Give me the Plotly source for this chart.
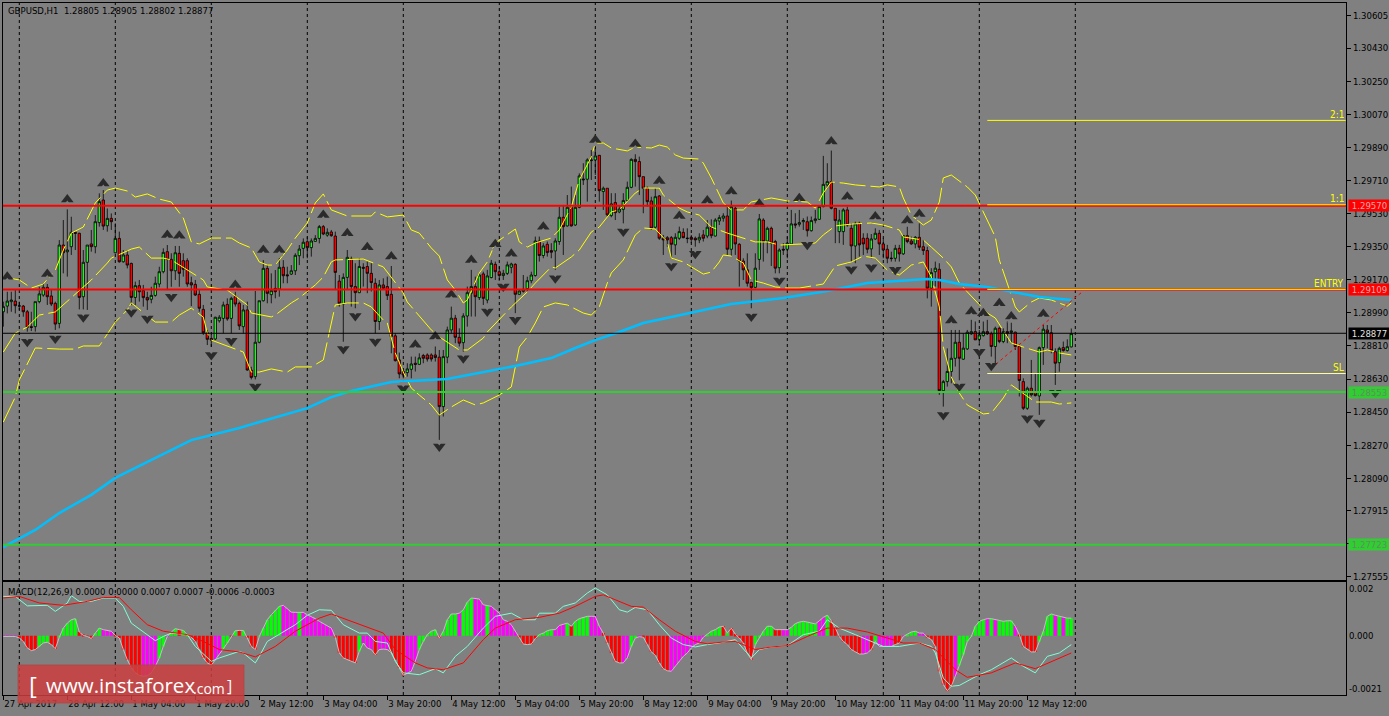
import plotly.graph_objects as go

# ---------- candles (bar index = position in list) ----------
open_prices = [
1.28996,1.29027,1.29051,1.29054,1.29027,1.29027,1.28996,1.28915,1.28915,1.29051,
1.29087,1.29129,1.29082,1.29042,1.28933,1.29359,1.29322,1.29350,1.29428,1.29423,
1.29078,1.29265,1.29365,1.29350,1.29481,1.29604,1.29464,1.29504,1.29317,1.29395,
1.29268,1.29305,1.29259,1.29074,1.29138,1.29111,1.29074,1.29064,1.29085,1.29147,
1.29214,1.29323,1.29281,1.29219,1.29314,1.29274,1.29274,1.29154,1.29145,1.29091,
1.29009,1.28882,1.28851,1.28848,1.28947,1.28960,1.29036,1.28960,1.29078,1.29042,
1.28915,1.29006,1.28679,1.28643,1.28830,1.29056,1.29232,1.29089,1.29123,1.29120,
1.29238,1.29197,1.29201,1.29219,1.29301,1.29341,1.29377,1.29345,1.29379,1.29395,
1.29459,1.29413,1.29430,1.29408,1.29163,1.29038,1.29183,1.29282,1.29133,1.29100,
1.29238,1.29242,1.29205,1.29151,1.28943,1.29142,1.29133,1.29091,1.28865,1.28734,
1.28671,1.28665,1.28683,1.28716,1.28710,1.28758,1.28761,1.28761,1.28761,1.28749,
1.28480,1.28749,1.28897,1.28961,1.28857,1.28828,1.28973,1.29097,1.29133,1.29073,
1.29202,1.29060,1.29182,1.29254,1.29214,1.29193,1.29205,1.29238,1.29254,1.29091,
1.29107,1.29122,1.29165,1.29193,1.29381,1.29302,1.29363,1.29329,1.29327,1.29378,
1.29510,1.29463,1.29564,1.29468,1.29564,1.29713,1.29717,1.29818,1.29822,1.29847,
1.29650,1.29668,1.29519,1.29590,1.29539,1.29553,1.29601,1.29673,1.29825,1.29813,
1.29731,1.29668,1.29599,1.29456,1.29626,1.29396,1.29399,1.29399,1.29360,1.29396,
1.29428,1.29394,1.29401,1.29396,1.29387,1.29414,1.29408,1.29454,1.29408,1.29490,
1.29505,1.29517,1.29336,1.29559,1.29363,1.29272,1.29224,1.29155,1.29129,1.29281,
1.29495,1.29381,1.29450,1.29378,1.29236,1.29336,1.29336,1.29365,1.29474,1.29472,
1.29486,1.29486,1.29437,1.29492,1.29499,1.29568,1.29686,1.29704,1.29559,1.29432,
1.29432,1.29550,1.29450,1.29354,1.29477,1.29396,1.29396,1.29338,1.29392,1.29423,
1.29365,1.29336,1.29285,1.29287,1.29341,1.29311,1.29410,1.29381,1.29365,1.29401,
1.29350,1.29329,1.29124,1.29214,1.29227,1.28567,1.28616,1.28671,1.28743,1.28830,
1.28738,1.28794,1.28876,1.28888,1.28846,1.28866,1.28888,1.28876,1.28807,1.28906,
1.28834,1.28888,1.28883,1.28885,1.28807,1.28616,1.28471,1.28580,1.28562,1.28538,
1.28801,1.28897,1.28882,1.28779,1.28719,1.28801,1.28785,1.28805]
high_prices = [
1.29051,1.29105,1.29105,1.29114,1.29051,1.29033,1.29006,1.28996,1.29051,1.29132,
1.29151,1.29147,1.29114,1.29051,1.29386,1.29495,1.29553,1.29513,1.29432,1.29426,
1.29332,1.29359,1.29441,1.29522,1.29640,1.29658,1.29558,1.29531,1.29477,1.29432,
1.29332,1.29332,1.29263,1.29160,1.29169,1.29142,1.29105,1.29132,1.29187,1.29241,
1.29341,1.29359,1.29314,1.29354,1.29354,1.29314,1.29287,1.29187,1.29169,1.29114,
1.29033,1.28897,1.28870,1.28969,1.28978,1.29051,1.29069,1.29078,1.29105,1.29051,
1.29033,1.29051,1.28697,1.29109,1.29056,1.29277,1.29250,1.29205,1.29223,1.29287,
1.29277,1.29241,1.29250,1.29314,1.29359,1.29395,1.29404,1.29395,1.29413,1.29468,
1.29468,1.29450,1.29441,1.29432,1.29196,1.29205,1.29332,1.29296,1.29260,1.29287,
1.29260,1.29269,1.29260,1.29178,1.29169,1.29178,1.29187,1.29245,1.28879,1.28774,
1.28680,1.28716,1.28752,1.28752,1.28770,1.28767,1.28770,1.28770,1.28807,1.28788,
1.28788,1.28915,1.29024,1.28979,1.28906,1.28988,1.29133,1.29224,1.29187,1.29205,
1.29214,1.29224,1.29278,1.29269,1.29242,1.29224,1.29269,1.29263,1.29260,1.29115,
1.29196,1.29187,1.29214,1.29405,1.29405,1.29369,1.29378,1.29369,1.29396,1.29568,
1.29577,1.29631,1.29677,1.29631,1.29749,1.29804,1.29831,1.29876,1.29894,1.29849,
1.29677,1.29668,1.29641,1.29641,1.29577,1.29641,1.29704,1.29831,1.29853,1.29840,
1.29731,1.29677,1.29622,1.29668,1.29631,1.29414,1.29408,1.29408,1.29423,1.29459,
1.29450,1.29450,1.29414,1.29405,1.29423,1.29441,1.29495,1.29499,1.29505,1.29523,
1.29532,1.29568,1.29601,1.29568,1.29369,1.29287,1.29314,1.29160,1.29314,1.29528,
1.29505,1.29459,1.29459,1.29387,1.29341,1.29369,1.29405,1.29550,1.29532,1.29550,
1.29505,1.29514,1.29514,1.29550,1.29572,1.29844,1.29804,1.29873,1.29559,1.29550,
1.29559,1.29568,1.29477,1.29486,1.29486,1.29423,1.29423,1.29419,1.29450,1.29441,
1.29396,1.29360,1.29323,1.29360,1.29360,1.29414,1.29468,1.29405,1.29408,1.29477,
1.29387,1.29350,1.29233,1.29269,1.29260,1.28625,1.28797,1.28897,1.28897,1.28897,
1.28879,1.28897,1.28952,1.28943,1.28897,1.28943,1.28952,1.28888,1.28915,1.28915,
1.28906,1.28943,1.28943,1.28888,1.28816,1.28634,1.28589,1.28734,1.28661,1.28807,
1.28924,1.28924,1.28924,1.28797,1.28806,1.28834,1.28846,1.28905]
low_prices = [
1.28915,1.28987,1.28996,1.28987,1.29006,1.28969,1.28888,1.28891,1.28888,1.29042,
1.29078,1.29033,1.29027,1.28897,1.28906,1.29205,1.29187,1.29305,1.29332,1.29009,
1.29009,1.29006,1.29323,1.29314,1.29459,1.29441,1.29432,1.29441,1.29314,1.29263,
1.29263,1.29232,1.29033,1.29033,1.29051,1.29024,1.29006,1.29042,1.29078,1.29129,
1.29205,1.29114,1.29132,1.29169,1.29132,1.29187,1.29132,1.29027,1.29082,1.28996,
1.28870,1.28815,1.28806,1.28842,1.28937,1.28879,1.28947,1.28879,1.29024,1.28897,
1.28879,1.28675,1.28628,1.28628,1.28824,1.29051,1.29042,1.29042,1.29069,1.29078,
1.29151,1.29151,1.29196,1.29196,1.29250,1.29287,1.29287,1.29296,1.29377,1.29368,
1.29413,1.29404,1.29404,1.29114,1.29024,1.28833,1.29114,1.29024,1.29015,1.29097,
1.29133,1.29097,1.29106,1.28879,1.28897,1.29115,1.29060,1.28770,1.28725,1.28634,
1.28634,1.28643,1.28634,1.28671,1.28707,1.28716,1.28725,1.28725,1.28725,1.28299,
1.28426,1.28716,1.28879,1.28825,1.28807,1.28779,1.28915,1.28970,1.28970,1.29060,
1.29033,1.29042,1.29178,1.29169,1.29169,1.29169,1.29196,1.29205,1.28988,1.29088,
1.29100,1.29106,1.29151,1.29187,1.29269,1.29287,1.29296,1.29287,1.29224,1.29360,
1.29305,1.29459,1.29459,1.29463,1.29559,1.29686,1.29595,1.29713,1.29740,1.29595,
1.29550,1.29514,1.29510,1.29495,1.29532,1.29477,1.29595,1.29668,1.29677,1.29631,
1.29532,1.29568,1.29441,1.29450,1.29387,1.29305,1.29350,1.29287,1.29305,1.29387,
1.29396,1.29369,1.29369,1.29350,1.29369,1.29378,1.29396,1.29396,1.29405,1.29468,
1.29486,1.29305,1.29300,1.29305,1.29133,1.29169,1.29133,1.29015,1.29124,1.29224,
1.29269,1.29314,1.29245,1.29205,1.29205,1.29305,1.29287,1.29360,1.29450,1.29459,
1.29441,1.29405,1.29432,1.29477,1.29495,1.29564,1.29668,1.29553,1.29369,1.29369,
1.29360,1.29459,1.29269,1.29260,1.29296,1.29305,1.29314,1.29287,1.29387,1.29305,
1.29287,1.29260,1.29269,1.29269,1.29269,1.29305,1.29369,1.29360,1.29341,1.29332,
1.29305,1.29069,1.29024,1.29133,1.28544,1.28480,1.28589,1.28607,1.28698,1.28589,
1.28734,1.28788,1.28870,1.28843,1.28752,1.28861,1.28870,1.28752,1.28716,1.28825,
1.28825,1.28825,1.28825,1.28788,1.28535,1.28462,1.28462,1.28535,1.28535,1.28435,
1.28707,1.28797,1.28770,1.28598,1.28670,1.28779,1.28779,1.28802]
close_prices = [
1.29024,1.29054,1.29060,1.29029,1.29028,1.28996,1.28911,1.28911,1.29051,1.29093,
1.29129,1.29078,1.29038,1.28929,1.29359,1.29317,1.29332,1.29428,1.29423,1.29074,
1.29265,1.29359,1.29350,1.29486,1.29595,1.29462,1.29504,1.29486,1.29395,1.29268,
1.29305,1.29250,1.29074,1.29138,1.29105,1.29073,1.29060,1.29085,1.29151,1.29214,
1.29319,1.29281,1.29219,1.29317,1.29205,1.29227,1.29147,1.29142,1.29087,1.29015,
1.28882,1.28846,1.28842,1.28966,1.28966,1.29033,1.28957,1.29069,1.29038,1.28919,
1.29006,1.28679,1.28639,1.28830,1.29056,1.29232,1.29096,1.29111,1.29105,1.29238,
1.29192,1.29192,1.29219,1.29303,1.29337,1.29374,1.29345,1.29381,1.29395,1.29459,
1.29419,1.29428,1.29410,1.29210,1.29042,1.29183,1.29292,1.29133,1.29100,1.29242,
1.29233,1.29205,1.29155,1.28943,1.29142,1.29124,1.29084,1.28861,1.28730,1.28658,
1.28652,1.28685,1.28712,1.28710,1.28745,1.28743,1.28739,1.28739,1.28747,1.28480,
1.28752,1.28897,1.28961,1.28857,1.28825,1.28973,1.29100,1.29133,1.29078,1.29196,
1.29069,1.29191,1.29260,1.29214,1.29193,1.29205,1.29251,1.29256,1.29091,1.29109,
1.29118,1.29165,1.29196,1.29381,1.29302,1.29354,1.29318,1.29320,1.29381,1.29510,
1.29459,1.29564,1.29463,1.29564,1.29735,1.29717,1.29822,1.29822,1.29844,1.29655,
1.29668,1.29523,1.29583,1.29535,1.29555,1.29601,1.29673,1.29825,1.29813,1.29731,
1.29668,1.29595,1.29450,1.29622,1.29396,1.29387,1.29387,1.29363,1.29401,1.29432,
1.29399,1.29396,1.29390,1.29387,1.29401,1.29396,1.29456,1.29410,1.29495,1.29508,
1.29517,1.29336,1.29568,1.29365,1.29272,1.29224,1.29151,1.29127,1.29233,1.29501,
1.29378,1.29450,1.29369,1.29233,1.29332,1.29332,1.29369,1.29474,1.29468,1.29481,
1.29492,1.29437,1.29492,1.29501,1.29568,1.29689,1.29704,1.29559,1.29492,1.29495,
1.29550,1.29468,1.29354,1.29474,1.29360,1.29365,1.29336,1.29392,1.29423,1.29365,
1.29332,1.29287,1.29287,1.29341,1.29311,1.29410,1.29378,1.29365,1.29401,1.29347,
1.29329,1.29124,1.29209,1.29233,1.28567,1.28616,1.28671,1.28743,1.28830,1.28743,
1.28798,1.28885,1.28888,1.28843,1.28870,1.28888,1.28876,1.28807,1.28906,1.28834,
1.28888,1.28879,1.28892,1.28807,1.28622,1.28471,1.28580,1.28544,1.28540,1.28801,
1.28901,1.28882,1.28785,1.28716,1.28797,1.28785,1.28806,1.28877]

# ---------- overlays ----------
ma_index = [0,8,14,22,28,37,47,59,70,76,82,87,97,111,128,137,143,148,154,160,167,174,182,195,206,216,224,231,234,239,246,254,259,267]
ma_values = [1.27716,1.27809,1.27901,1.28000,1.28092,1.28190,1.28298,1.28364,1.28434,1.28472,1.28532,1.28565,1.28614,1.28630,1.28701,1.28744,1.28799,1.28842,1.28886,1.28935,1.28968,1.29000,1.29038,1.29071,1.29109,1.29152,1.29163,1.29174,1.29169,1.29147,1.29131,1.29098,1.29076,1.29060]

upper_index = [0,4,7,10,13,15,17,20,23,26,28,31,33,36,39,42,45,47,49,52,57,59,62,64,66,68,71,73,76,78,80,82,86,92,93,96,100,102,104,107,109,111,113,115,116,119,121,123,128,129,131,133,137,139,142,144,147,148,150,152,156,158,162,164,166,168,170,174,175,177,180,182,185,187,192,196,201,203,205,207,210,213,219,221,224,225,227,230,232,234,235,237,241,243,245,248,249,251,253,254,257,259,262,266,267]
upper_values = [1.29185,1.29169,1.29125,1.29147,1.29223,1.29332,1.29424,1.29457,1.29588,1.29658,1.29669,1.29653,1.29620,1.29637,1.29609,1.29593,1.29506,1.29376,1.29365,1.29397,1.29397,1.29370,1.29343,1.29267,1.29250,1.29250,1.29332,1.29397,1.29479,1.29588,1.29637,1.29550,1.29517,1.29517,1.29539,1.29512,1.29522,1.29441,1.29424,1.29343,1.29299,1.29169,1.29114,1.29044,1.29060,1.29207,1.29267,1.29370,1.29446,1.29376,1.29348,1.29370,1.29397,1.29441,1.29566,1.29713,1.29838,1.29914,1.29914,1.29887,1.29871,1.29892,1.29887,1.29903,1.29892,1.29849,1.29832,1.29827,1.29805,1.29724,1.29588,1.29550,1.29550,1.29593,1.29615,1.29599,1.29593,1.29560,1.29642,1.29702,1.29696,1.29686,1.29675,1.29686,1.29675,1.29615,1.29522,1.29468,1.29495,1.29593,1.29724,1.29740,1.29675,1.29631,1.29539,1.29403,1.29278,1.29152,1.29022,1.28995,1.29049,1.29071,1.29060,1.29027,1.29044]

middle_index = [0,3,6,9,13,15,17,20,22,26,27,32,34,37,40,42,44,50,51,56,57,61,62,67,68,72,74,78,80,82,83,89,90,95,96,100,101,107,109,114,116,120,121,125,127,131,133,137,138,142,144,147,149,152,154,158,160,164,165,169,171,174,177,181,184,188,191,194,200,203,205,208,212,217,220,224,225,230,232,235,237,239,241,246,248,252,255,259,261,264,267]
middle_values = [1.28777,1.28880,1.28913,1.28978,1.28995,1.29033,1.29076,1.29131,1.29169,1.29261,1.29288,1.29337,1.29348,1.29288,1.29288,1.29278,1.29250,1.29169,1.29131,1.29114,1.29098,1.29033,1.28989,1.28968,1.28978,1.29044,1.29071,1.29142,1.29185,1.29267,1.29278,1.29283,1.29283,1.29240,1.29212,1.29098,1.29049,1.28897,1.28859,1.28788,1.28788,1.28853,1.28886,1.28978,1.29022,1.29104,1.29152,1.29240,1.29234,1.29294,1.29332,1.29430,1.29457,1.29539,1.29550,1.29642,1.29669,1.29669,1.29631,1.29560,1.29539,1.29522,1.29457,1.29424,1.29403,1.29376,1.29376,1.29359,1.29365,1.29370,1.29414,1.29463,1.29473,1.29479,1.29468,1.29441,1.29403,1.29386,1.29348,1.29288,1.29240,1.29152,1.29104,1.28989,1.28962,1.28826,1.28804,1.28777,1.28788,1.28772,1.28761]

lower_index = [0,3,4,7,8,14,18,20,24,25,28,31,32,38,42,44,47,50,51,52,57,60,62,64,67,71,73,77,80,82,83,86,90,92,95,96,98,100,102,104,107,109,112,115,118,120,124,127,128,129,131,133,135,138,141,143,145,147,149,151,152,155,158,160,163,166,167,170,174,175,177,179,180,182,185,187,190,193,196,199,205,207,208,212,215,218,221,224,227,230,232,234,235,237,239,241,245,247,250,252,258,262,264,267]
lower_values = [1.28396,1.28532,1.28625,1.28750,1.28799,1.28793,1.28793,1.28810,1.28810,1.28842,1.28940,1.29006,1.29044,1.28940,1.28940,1.28978,1.29016,1.28967,1.28880,1.28842,1.28799,1.28777,1.28668,1.28668,1.28685,1.28668,1.28696,1.28696,1.28734,1.28935,1.29033,1.29044,1.29044,1.29022,1.28951,1.28935,1.28772,1.28668,1.28581,1.28543,1.28489,1.28434,1.28478,1.28516,1.28489,1.28500,1.28543,1.28587,1.28696,1.28804,1.28859,1.28935,1.29022,1.29044,1.29033,1.29011,1.28989,1.28978,1.29022,1.29152,1.29207,1.29278,1.29414,1.29452,1.29446,1.29376,1.29288,1.29267,1.29212,1.29201,1.29212,1.29267,1.29305,1.29299,1.29261,1.29169,1.29152,1.29131,1.29125,1.29125,1.29147,1.29212,1.29245,1.29267,1.29299,1.29288,1.29223,1.29196,1.29250,1.29267,1.29185,1.29022,1.28804,1.28641,1.28554,1.28489,1.28440,1.28445,1.28527,1.28598,1.28505,1.28505,1.28494,1.28500]

fractal_up_index = [1,11,16,25,41,44,58,65,69,80,86,91,97,103,108,112,117,123,127,135,148,158,164,169,176,182,189,199,207,211,218,226,229,237,242,245,249,252,260]
fractal_up_values = [1.29187,1.29201,1.29607,1.29694,1.29413,1.29410,1.29142,1.29332,1.29332,1.29522,1.29423,1.29347,1.29296,1.28816,1.28861,1.29088,1.29278,1.29363,1.29311,1.29459,1.29931,1.29909,1.29708,1.29517,1.29601,1.29650,1.29583,1.29613,1.29922,1.29622,1.29514,1.29492,1.29528,1.28948,1.28997,1.28988,1.29042,1.28970,1.28984]
fractal_down_index = [6,13,20,32,36,42,52,57,63,85,88,93,100,109,115,121,125,128,138,155,167,173,187,194,201,212,217,223,235,239,244,247,256,259,263]
fractal_down_values = [1.28833,1.28851,1.28966,1.28993,1.28960,1.29078,1.28761,1.28839,1.28589,1.28793,1.28973,1.28834,1.28580,1.28263,1.28743,1.28997,1.29133,1.28952,1.29178,1.29432,1.29245,1.29311,1.28970,1.29166,1.29360,1.29227,1.29238,1.29224,1.28435,1.28589,1.28779,1.28703,1.28417,1.28393,1.28556]

# ---------- levels and texts ----------
red_levels = [1.29573, 1.29117]
green_levels = [1.28559, 1.27729]
close_level = 1.28879
ratio_levels = [1.30037, 1.29578, 1.29118, 1.28660]
ratio_labels = ["2:1", "1:1", "ENTRY", "SL"]
ratio_start_bar = 246
trend_bars = [247, 270]
trend_prices = [1.28690, 1.29109]
box_prices = [1.29573, 1.29117, 1.28879, 1.28559, 1.27729]
box_labels = ["1.29570", "1.29109", "1.28877", "1.28553", "1.27723"]

price_tick_values = [1.30605,1.30430,1.30250,1.30070,1.29890,1.29710,1.29530,1.29350,1.29170,1.28990,1.28810,1.28630,1.28450,1.28270,1.28090,1.27915,1.27735,1.27555]
price_tick_labels = ["1.30605","1.30430","1.30250","1.30070","1.29890","1.29710","1.29530","1.29350","1.29170","1.28990","1.28810","1.28630","1.28450","1.28270","1.28090","1.27915","1.27735","1.27555"]
time_tick_bars = [0,16,32,48,64,80,96,112,128,144,160,176,192,208,224,240,256]
time_tick_labels = ["27 Apr 2017","28 Apr 12:00","1 May 04:00","1 May 20:00","2 May 12:00","3 May 04:00","3 May 20:00","4 May 12:00","5 May 04:00","5 May 20:00","8 May 12:00","9 May 04:00","9 May 20:00","10 May 12:00","11 May 04:00","11 May 20:00","12 May 12:00"]
day_line_bars = [4,28,52,76,100,124,148,172,196,220,244,268]

# ---------- MACD ----------
macd_hist = [
-0.00003,-0.00003,-0.00003,-0.00003,-0.00009,-0.00022,-0.00047,-0.00057,-0.00053,-0.00041,
-0.00028,-0.00025,-0.00034,-0.00050,-0.00006,0.00029,0.00048,0.00061,0.00065,0.00014,
0.00001,-0.00003,-0.00011,0.00010,0.00029,0.00023,0.00020,0.00017,0.00001,-0.00009,
-0.00053,-0.00092,-0.00123,-0.00142,-0.00151,-0.00155,-0.00153,-0.00142,-0.00117,-0.00085,
-0.00041,-0.00003,0.00014,0.00027,0.00023,0.00020,0.00004,-0.00006,-0.00022,-0.00053,
-0.00085,-0.00104,-0.00113,-0.00092,-0.00073,-0.00050,-0.00028,-0.00003,0.00019,0.00020,
0.00020,-0.00009,-0.00041,-0.00053,-0.00003,0.00029,0.00061,0.00080,0.00097,0.00112,
0.00116,0.00103,0.00090,0.00089,0.00089,0.00089,0.00080,0.00074,0.00065,0.00055,
0.00046,0.00039,0.00029,-0.00006,-0.00066,-0.00085,-0.00092,-0.00098,-0.00104,-0.00060,
-0.00028,-0.00047,-0.00053,-0.00073,-0.00053,-0.00051,-0.00053,-0.00066,-0.00092,-0.00123,
-0.00151,-0.00142,-0.00136,-0.00098,-0.00053,-0.00022,0.00004,0.00017,0.00023,-0.00009,
0.00017,0.00061,0.00083,0.00083,0.00086,0.00099,0.00128,0.00144,0.00141,0.00140,
0.00118,0.00116,0.00112,0.00099,0.00086,0.00061,0.00055,0.00042,0.00017,-0.00006,
-0.00032,-0.00034,-0.00032,-0.00011,0.00004,0.00010,0.00019,0.00023,0.00023,0.00039,
0.00045,0.00048,0.00036,0.00055,0.00065,0.00071,0.00074,0.00074,0.00074,0.00036,
0.00010,-0.00028,-0.00066,-0.00098,-0.00104,-0.00104,-0.00085,-0.00041,-0.00009,-0.00004,
-0.00006,-0.00034,-0.00062,-0.00075,-0.00104,-0.00126,-0.00134,-0.00136,-0.00117,-0.00098,
-0.00079,-0.00066,-0.00047,-0.00034,-0.00028,-0.00006,0.00004,0.00017,0.00023,0.00033,
0.00036,0.00010,0.00029,0.00006,-0.00009,-0.00028,-0.00066,-0.00092,-0.00034,-0.00006,
0.00017,0.00036,0.00036,0.00023,0.00023,0.00023,0.00023,0.00032,0.00046,0.00052,
0.00055,0.00052,0.00048,0.00045,0.00057,0.00070,0.00078,0.00057,0.00029,-0.00003,
-0.00022,-0.00034,-0.00053,-0.00062,-0.00070,-0.00070,-0.00066,-0.00053,-0.00022,-0.00041,
-0.00041,-0.00041,-0.00041,-0.00034,-0.00028,-0.00003,0.00004,0.00014,0.00017,0.00010,
0.00010,-0.00006,-0.00015,-0.00041,-0.00136,-0.00187,-0.00210,-0.00193,-0.00155,-0.00113,
-0.00073,-0.00022,-0.00003,0.00036,0.00055,0.00061,0.00065,0.00065,0.00061,0.00057,
0.00055,0.00057,0.00057,0.00036,0.00004,-0.00041,-0.00050,-0.00062,-0.00062,-0.00022,
0.00017,0.00074,0.00083,0.00078,0.00074,0.00071,0.00067,0.00067]
hist_color_codes = (
"mmmmrrrrrg" "ggrrgggggr" "rrrggmmmrr" "rrrrrmmmmg" "gmggrggrrr"
"rrrmmggrgr" "grrrgggggg" "mmmmgmmmmm" "mmmrrrrrrg" "mmmrmmmrrr"
"rmmmgggggr" "ggggmgggmm" "mgmmmmmmmr" "rrrrggggmm" "mgrggggmmm"
"rrrrrmmggm" "rrrrrrrmmm" "mmmmmmgggg" "rgrrrrrrgg" "gggrrmmggg"
"ggggmmgrrr" "rrrrrmmrgm" "mmmrrmgggm" "mrrrrrrrmg" "ggggggmgmg"
"gggmrrrrrg" "gggmgmgg")
macd_cyan_index = [0,3,6,11,13,16,17,19,22,25,28,30,32,36,38,40,42,46,48,52,54,59,60,63,64,66,71,73,76,79,82,85,89,91,93,96,98,100,104,108,110,113,116,120,123,127,130,133,134,138,140,143,146,148,151,154,156,158,161,164,167,170,173,176,180,183,187,189,192,196,200,204,206,209,213,216,220,224,229,232,233,235,237,239,244,247,252,255,258,261,264,267]
macd_cyan = [0.00150,0.00150,0.00114,0.00116,0.00093,0.00125,0.00153,0.00131,0.00131,0.00144,0.00144,0.00112,0.00048,0.00001,-0.00019,-0.00003,0.00010,0.00004,-0.00041,-0.00098,-0.00085,-0.00060,-0.00066,-0.00104,-0.00079,-0.00022,0.00023,0.00042,0.00078,0.00099,0.00097,0.00042,0.00010,0.00010,-0.00022,-0.00028,-0.00098,-0.00142,-0.00149,-0.00126,-0.00142,-0.00079,-0.00041,0.00029,0.00074,0.00086,0.00061,0.00061,0.00086,0.00086,0.00112,0.00125,0.00163,0.00182,0.00156,0.00099,0.00090,0.00108,0.00099,0.00042,-0.00009,-0.00034,-0.00043,-0.00034,-0.00025,-0.00015,-0.00085,-0.00053,-0.00043,-0.00038,0.00004,0.00017,0.00061,0.00029,0.00004,-0.00015,-0.00041,-0.00041,-0.00028,-0.00041,-0.00066,-0.00162,-0.00193,-0.00190,-0.00149,-0.00130,-0.00085,-0.00117,-0.00142,-0.00079,-0.00066,-0.00034]
macd_red_index = [0,4,9,15,21,25,29,32,36,40,46,50,54,59,63,68,73,79,82,86,91,95,98,103,106,110,115,120,123,128,134,139,143,148,150,153,157,160,164,168,173,176,180,183,188,192,196,201,206,211,216,221,225,229,233,238,241,247,253,258,267]
macd_red = [0.00144,0.00150,0.00125,0.00116,0.00131,0.00146,0.00146,0.00099,0.00042,0.00017,0.00004,-0.00022,-0.00053,-0.00062,-0.00081,-0.00041,0.00017,0.00067,0.00083,0.00061,0.00032,0.00010,-0.00053,-0.00104,-0.00123,-0.00130,-0.00104,-0.00015,0.00029,0.00061,0.00070,0.00086,0.00112,0.00150,0.00156,0.00137,0.00112,0.00109,0.00061,0.00017,-0.00022,-0.00031,-0.00024,-0.00022,-0.00053,-0.00043,-0.00038,-0.00003,0.00029,0.00029,0.00014,-0.00009,-0.00028,-0.00028,-0.00053,-0.00130,-0.00159,-0.00142,-0.00104,-0.00126,-0.00066]
macd_tick_values = [0.00178, 0.0, -0.00204]
macd_tick_labels = ["0.002", "0.000", "-0.0021"]

# ---------- page geometry ----------
W, H = 1389, 716
FONT = "DejaVu Sans Condensed, Liberation Sans, sans-serif"
FS = 9.5
GRAY = "#808080"
PX = 0.0000544   # price per pixel of the main pane
hist_palette = {"g": "#00ff00", "r": "#ff0000", "m": "#ff00ff"}
bars = list(range(len(open_prices)))

def px_x(p): return p / W
def px_y(p): return 1 - p / H

fig = go.Figure()
fig.add_trace(go.Candlestick(
    x=bars, open=open_prices, high=high_prices, low=low_prices, close=close_prices,
    increasing=dict(line=dict(color="black", width=0.8), fillcolor="#32ee32"),
    decreasing=dict(line=dict(color="black", width=0.8), fillcolor="#ff0000"),
    whiskerwidth=0, hoverinfo="skip", xaxis="x", yaxis="y"))

band = dict(color="#ffff00", width=1, dash="26px,5px")
for idx, vals in ((upper_index, upper_values), (middle_index, middle_values), (lower_index, lower_values)):
    fig.add_trace(go.Scatter(x=idx, y=vals, mode="lines", line=band, hoverinfo="skip", xaxis="x", yaxis="y"))
fig.add_trace(go.Scatter(x=ma_index, y=ma_values, mode="lines",
                         line=dict(color="#00bfff", width=2.5), hoverinfo="skip", xaxis="x", yaxis="y"))
fig.add_trace(go.Scatter(x=trend_bars, y=trend_prices, mode="lines",
                         line=dict(color="#ff0000", width=1, dash="3px,3px"), hoverinfo="skip", xaxis="x", yaxis="y"))

fig.add_trace(go.Scatter(x=fractal_up_index, y=fractal_up_values, mode="markers",
                         marker=dict(symbol="triangle-up", size=11, color="#2a2a2a", line=dict(width=0)),
                         hoverinfo="skip", xaxis="x", yaxis="y"))
fig.add_trace(go.Scatter(x=fractal_up_index, y=[v - 4.5 * PX for v in fractal_up_values], mode="markers",
                         marker=dict(symbol="triangle-up", size=7, color=GRAY, line=dict(width=0)),
                         hoverinfo="skip", xaxis="x", yaxis="y"))
fig.add_trace(go.Scatter(x=fractal_down_index, y=fractal_down_values, mode="markers",
                         marker=dict(symbol="triangle-down", size=11, color="#2a2a2a", line=dict(width=0)),
                         hoverinfo="skip", xaxis="x", yaxis="y"))
fig.add_trace(go.Scatter(x=fractal_down_index, y=[v + 4.5 * PX for v in fractal_down_values], mode="markers",
                         marker=dict(symbol="triangle-down", size=7, color=GRAY, line=dict(width=0)),
                         hoverinfo="skip", xaxis="x", yaxis="y"))

fig.add_trace(go.Bar(x=bars, y=macd_hist, marker=dict(color=[hist_palette[c] for c in hist_color_codes], line=dict(width=0)),
                     width=0.75, hoverinfo="skip", xaxis="x2", yaxis="y2"))
fig.add_trace(go.Scatter(x=bars, y=macd_hist, mode="lines", line=dict(color="#c0c0c0", width=1),
                         hoverinfo="skip", xaxis="x2", yaxis="y2"))
fig.add_trace(go.Scatter(x=macd_cyan_index, y=macd_cyan, mode="lines", line=dict(color="#7fffd4", width=1),
                         hoverinfo="skip", xaxis="x2", yaxis="y2"))
fig.add_trace(go.Scatter(x=macd_red_index, y=macd_red, mode="lines", line=dict(color="#ff0000", width=1),
                         hoverinfo="skip", xaxis="x2", yaxis="y2"))

shapes = []
for b in day_line_bars:
    shapes.append(dict(type="line", xref="x", yref="paper", x0=b, x1=b, y0=px_y(695), y1=px_y(3),
                       line=dict(color="black", width=1, dash="3px,3px"), layer="below"))
for lv in red_levels:
    shapes.append(dict(type="line", xref="paper", yref="y", x0=px_x(3), x1=px_x(1346), y0=lv, y1=lv,
                       line=dict(color="#ff0000", width=2)))
for lv in green_levels:
    shapes.append(dict(type="line", xref="paper", yref="y", x0=px_x(3), x1=px_x(1346), y0=lv, y1=lv,
                       line=dict(color="#32cd32", width=2)))
shapes.append(dict(type="line", xref="paper", yref="y", x0=px_x(3), x1=px_x(1346), y0=close_level, y1=close_level,
                   line=dict(color="black", width=1)))
for lv, lab in zip(ratio_levels, ratio_labels):
    shapes.append(dict(type="line", xref="x", yref="y", x0=ratio_start_bar, x1=335.6, y0=lv, y1=lv,
                       line=dict(color="#ffffa0" if lab == "SL" else "#ffff00", width=1)))
# watermark plate
shapes.append(dict(type="rect", xref="paper", yref="paper", x0=px_x(18), x1=px_x(244), y0=px_y(703), y1=px_y(665),
                   fillcolor="rgba(205,62,62,0.85)", line=dict(color="rgba(170,70,70,0.8)", width=1)))

def note(text, x, y, size=FS, color="black", family=FONT, anchor="left"):
    return dict(text=text, xref="paper", yref="paper", x=px_x(x), y=px_y(y), xanchor=anchor, yanchor="middle",
                showarrow=False, borderpad=0, font=dict(family=family, size=size, color=color))

annotations = [
    note("GBPUSD,H1&nbsp;&nbsp;1.28805 1.28905 1.28802 1.28877", 7, 10),
    note("MACD(12,26,9) 0.0000 0.0000 0.0007 0.0007 -0.0006 -0.0003", 7, 591),
    note("[", 28, 684, 24, "white", "Open Sans"),
    note("www.instaforex", 45, 685, 20.5, "white", "Open Sans"),
    note(".com", 192, 688, 14, "white", "Open Sans"),
    note("]", 226, 686, 16, "white", "Open Sans"),
]
for lv, lab in zip(ratio_levels, ratio_labels):
    annotations.append(dict(text=lab, xref="paper", yref="y", x=px_x(1345), y=lv + 6 * PX, xanchor="right",
                            yanchor="middle", showarrow=False, borderpad=0, font=dict(family=FONT, size=FS+0.5, color="#ffff00")))
box_style = [("#ff0000", "#f0a8a8"), ("#ff0000", "#f0a8a8"), ("#000000", "#e0e0e0"), ("#32cd32", "#5f8f5f"), ("#32cd32", "#5f8f5f")]
for lv, lab, (bg, fg) in zip(box_prices, box_labels, box_style):
    annotations.append(dict(text=lab, xref="paper", yref="y", x=px_x(1348), y=lv, xanchor="left", yanchor="middle",
                            showarrow=False, bgcolor=bg, width=41, height=11, borderpad=0, align="center",
                            font=dict(family=FONT, size=FS, color=fg)))

axis_line = dict(showline=True, linecolor="black", linewidth=1, mirror=True, showgrid=False, zeroline=False, automargin=False)
fig.update_layout(
    width=W, height=H, margin=dict(l=0, r=0, t=0, b=0, autoexpand=False), autosize=False,
    paper_bgcolor=GRAY, plot_bgcolor=GRAY, showlegend=False, bargap=0.25, boxgap=0.15, hovermode=False,
    font=dict(family=FONT, size=FS, color="black"),
    xaxis=dict(domain=[px_x(3), px_x(1346)], range=[-0.075, 335.675], anchor="y", showticklabels=False, ticks="",
               rangeslider=dict(visible=False), **axis_line),
    xaxis2=dict(domain=[px_x(3), px_x(1346)], matches="x", anchor="y2", tickmode="array", tickvals=time_tick_bars,
                ticktext=time_tick_labels, ticks="outside", ticklen=4, tickcolor="black", tickangle=0,
                ticklabelposition="outside right", tickfont=dict(family=FONT, size=FS, color="black"), **axis_line),
    yaxis=dict(domain=[px_y(579.5), px_y(2.5)], range=[1.30692 - 579.5 * PX, 1.30692 - 2.5 * PX], anchor="x", side="right",
               tickmode="array", tickvals=price_tick_values, ticktext=price_tick_labels, ticks="outside", ticklen=4,
               tickcolor="black", tickfont=dict(family=FONT, size=FS, color="black"), **axis_line),
    yaxis2=dict(domain=[px_y(694.6), px_y(581.5)], range=[-0.00225, 0.00207], anchor="x2", side="right",
                tickmode="array", tickvals=macd_tick_values, ticktext=macd_tick_labels, ticks="",
                tickfont=dict(family=FONT, size=FS, color="black"), **axis_line),
    shapes=shapes, annotations=annotations,
)

fig.write_html("out.html", config={"displayModeBar": False}, post_script="document.body.style.margin='0';document.body.style.overflow='hidden';")
